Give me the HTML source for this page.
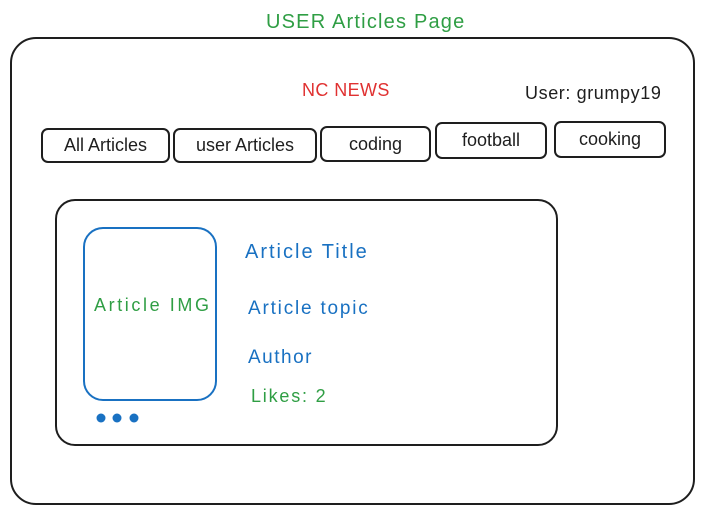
<!DOCTYPE html>
<html><head><meta charset="utf-8"><style>
body{margin:0;width:704px;height:515px;background:#fff;position:relative;overflow:hidden;font-family:"Liberation Sans",sans-serif}
.t{position:absolute;white-space:nowrap;line-height:1}
.b{position:absolute;border:2px solid #1e1e1e;border-radius:7px;box-sizing:border-box;display:flex;align-items:center;justify-content:center;font-size:18px;color:#1e1e1e}
</style></head><body>
<div class="t" style="left:266px;top:12px;font-size:20px;letter-spacing:1.2px;color:#2f9e44">USER Articles Page</div>
<div style="position:absolute;left:10px;top:37px;width:685px;height:468px;border:2px solid #1e1e1e;border-radius:26px;box-sizing:border-box"></div>
<div class="t" style="left:302px;top:81px;font-size:18px;letter-spacing:0.4px;color:#e03131">NC NEWS</div>
<div class="t" style="left:525px;top:84px;font-size:18px;letter-spacing:0.6px;color:#1e1e1e">User: grumpy19</div>
<div class="b" style="left:41px;top:128px;width:129px;height:35px">All Articles</div>
<div class="b" style="left:173px;top:128px;width:144px;height:35px">user Articles</div>
<div class="b" style="left:320px;top:126px;width:111px;height:36px">coding</div>
<div class="b" style="left:435px;top:122px;width:112px;height:37px">football</div>
<div class="b" style="left:554px;top:121px;width:112px;height:37px">cooking</div>
<div style="position:absolute;left:55px;top:199px;width:503px;height:247px;border:2px solid #1e1e1e;border-radius:20px;box-sizing:border-box"></div>
<div style="position:absolute;left:83px;top:227px;width:134px;height:174px;border:2px solid #1971c2;border-radius:20px;box-sizing:border-box"></div>
<div class="t" style="left:94px;top:296px;font-size:18px;letter-spacing:2.6px;color:#2f9e44">Article IMG</div>
<div class="t" style="left:245px;top:242px;font-size:20px;letter-spacing:2px;color:#1971c2">Article Title</div>
<div class="t" style="left:248px;top:299px;font-size:19px;letter-spacing:1.8px;color:#1971c2">Article topic</div>
<div class="t" style="left:248px;top:348px;font-size:19px;letter-spacing:1.5px;color:#1971c2">Author</div>
<div class="t" style="left:251px;top:387px;font-size:18px;letter-spacing:1.8px;color:#2f9e44">Likes: 2</div>
<svg style="position:absolute;left:0;top:0" width="704" height="515"><g fill="#1971c2"><circle cx="101" cy="418" r="4.5"/><circle cx="117" cy="418" r="4.5"/><circle cx="134" cy="418" r="4.5"/></g></svg>
</body></html>
